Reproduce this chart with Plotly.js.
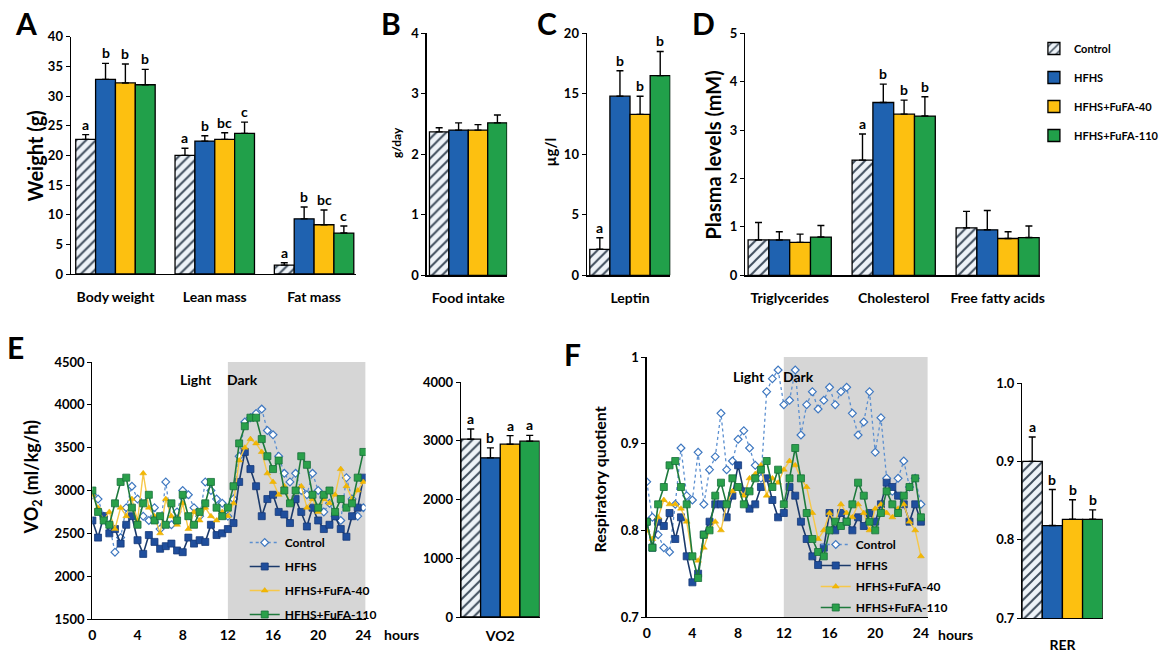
<!DOCTYPE html>
<html><head><meta charset="utf-8">
<script src="https://cdn.plot.ly/plotly-3.0.1.min.js"></script>
<style>html,body{margin:0;padding:0;background:#fff}#chart{width:1164px;height:653px}</style>
</head><body><div id="chart"></div>
<script>
// ---------- DATA ----------
const groups = ['Control', 'HFHS', 'HFHS+FuFA-40', 'HFHS+FuFA-110'];

// Panel A
const bodyCats = ['Body weight', 'Lean mass', 'Fat mass'];
const bodyMeans = [[22.7, 20.0, 1.5], [32.8, 22.4, 9.3], [32.2, 22.7, 8.3], [31.9, 23.7, 6.9]];
const bodyErrs = [[0.8, 1.2, 0.4], [2.7, 0.9, 2.0], [3.2, 1.1, 2.5], [2.6, 1.9, 1.2]];
const bodyLetters = [['a', 'a', 'a'], ['b', 'b', 'b'], ['b', 'bc', 'bc'], ['b', 'c', 'c']];

// Panel B
const foodCats = ['Food intake'];
const foodMeans = [[2.37], [2.40], [2.40], [2.52]];
const foodErrs = [[0.07], [0.12], [0.09], [0.13]];
const foodLetters = [[''], [''], [''], ['']];

// Panel C
const leptinCats = ['Leptin'];
const leptinMeans = [[2.15], [14.8], [13.3], [16.5]];
const leptinErrs = [[0.95], [2.1], [1.5], [2.0]];
const leptinLetters = [['a'], ['b'], ['b'], ['b']];

// Panel D
const plasmaCats = ['Triglycerides', 'Cholesterol', 'Free fatty acids'];
const plasmaMeans = [[0.73, 2.38, 0.98], [0.73, 3.57, 0.94], [0.68, 3.33, 0.76], [0.79, 3.29, 0.78]];
const plasmaErrs = [[0.36, 0.54, 0.34], [0.17, 0.38, 0.40], [0.17, 0.29, 0.14], [0.24, 0.40, 0.24]];
const plasmaLetters = [['', 'a', ''], ['', 'b', ''], ['', 'b', ''], ['', 'b', '']];

// Panel E bars
const vo2Cats = ['VO2'];
const vo2Means = [[3026], [2709], [2941], [2992]];
const vo2Errs = [[175], [170], [147], [100]];
const vo2Letters = [['a'], ['b'], ['a'], ['a']];

// Panel F bars
const rerCats = ['RER'];
const rerMeans = [[0.900], [0.818], [0.826], [0.826]];
const rerErrs = [[0.031], [0.046], [0.025], [0.012]];
const rerLetters = [['a'], ['b'], ['b'], ['b']];

// Time series (hours)
const hours = [0,0.5,1,1.5,2,2.5,3,3.5,4,4.5,5,5.5,6,6.5,7,7.5,8,8.5,9,9.5,10,10.5,11,11.5,12,12.5,13,13.5,14,14.5,15,15.5,16,16.5,17,17.5,18,18.5,19,19.5,20,20.5,21,21.5,22,22.5,23,23.5,24];
const hourTicks = [0, 4, 8, 12, 16, 20, 24];
const rqTicks = [0.7, 0.8, 0.9, 1.0];
const rqTickText = ['0.7', '0.8', '0.9', '1'];

const vo2Control = [2950,2900,2700,2600,2280,2450,2800,3050,2900,2700,2650,2800,2550,3100,2600,2750,3000,2950,2800,2700,3100,3000,2900,2850,2700,2900,3400,3800,3850,3900,3950,3700,3650,3400,3200,3100,3200,3000,2950,3200,3000,2750,2850,2700,2650,3150,2900,2700,2800];
const vo2HFHS = [2650,2450,2700,2500,2550,2380,2600,2700,2420,2260,2480,2400,2320,2350,2380,2300,2280,2450,2380,2420,2400,2600,2480,2500,2550,2620,3100,3450,3250,3050,2700,2900,2950,2750,2720,2620,2900,2750,2580,2800,2650,2550,2600,2700,2550,2460,2700,2800,3150];
const vo2F40 = [2950,2800,2650,2750,2550,2800,2700,2900,2650,3200,2800,2700,2500,2900,2700,2600,2850,2550,2750,2650,2800,2700,2650,2750,2700,2850,3350,3500,3600,3550,3450,3200,3100,2950,3050,2850,3000,3050,2800,2900,2750,2900,2850,2950,3250,3050,2900,3000,3100];
const vo2F110 = [3000,2750,2650,2600,2850,3100,3150,2800,2600,2850,2950,2650,2700,2600,2850,2650,2950,2700,2600,2750,2850,3100,2800,2700,2800,3050,3550,3750,3850,3850,3600,3400,3250,3350,3000,2850,3000,3400,3300,2950,2800,2950,3000,2750,2900,2800,2850,3150,3450];

const rqControl = [0.856,0.815,0.795,0.78,0.775,0.83,0.895,0.84,0.835,0.89,0.83,0.87,0.885,0.935,0.87,0.88,0.905,0.915,0.895,0.875,0.86,0.96,0.975,0.985,0.945,0.95,0.985,0.91,0.945,0.96,0.94,0.95,0.965,0.945,0.96,0.965,0.935,0.91,0.925,0.96,0.89,0.93,0.86,0.845,0.86,0.88,0.85,0.86,0.83];
const rqHFHS = [0.81,0.78,0.81,0.805,0.82,0.79,0.815,0.77,0.74,0.75,0.795,0.81,0.83,0.83,0.815,0.84,0.875,0.845,0.825,0.83,0.85,0.86,0.835,0.815,0.82,0.85,0.84,0.81,0.79,0.77,0.76,0.78,0.82,0.80,0.82,0.81,0.80,0.815,0.805,0.82,0.81,0.83,0.855,0.85,0.84,0.83,0.81,0.83,0.81];
const rqF40 = [0.80,0.79,0.815,0.835,0.83,0.83,0.825,0.81,0.77,0.765,0.78,0.80,0.81,0.80,0.83,0.845,0.85,0.84,0.86,0.865,0.875,0.84,0.86,0.855,0.87,0.88,0.875,0.86,0.85,0.82,0.79,0.80,0.82,0.81,0.83,0.82,0.815,0.83,0.82,0.80,0.825,0.83,0.82,0.815,0.825,0.83,0.81,0.80,0.77];
const rqF110 = [0.81,0.78,0.83,0.85,0.875,0.88,0.85,0.83,0.77,0.745,0.795,0.80,0.84,0.855,0.83,0.86,0.85,0.83,0.845,0.86,0.87,0.88,0.85,0.87,0.83,0.86,0.895,0.86,0.82,0.79,0.775,0.77,0.80,0.81,0.805,0.81,0.83,0.855,0.84,0.81,0.80,0.82,0.845,0.83,0.82,0.84,0.85,0.86,0.815];

// ---------- STYLE / LAYOUT ----------
const W = 1164, H = 653;
const FONT = 'Lato, "Open Sans", Arial, sans-serif';
const px = v => v / W;
const py = v => 1 - v / H;
const barColors = ['#eef3f8', '#1f62b0', '#fdc010', '#21a04a'];
const hatch = {shape: '/', fgcolor: '#3f4d5c', bgcolor: '#eef3f8', size: 7, solidity: 0.28};
const tickFont = s => ({size: s, family: FONT, color: '#000', weight: 'bold'});

const traces = [];
const annotations = [];
const layout = {
  width: W, height: H, margin: {l: 0, r: 0, t: 0, b: 0},
  paper_bgcolor: '#fff', plot_bgcolor: 'rgba(0,0,0,0)',
  font: {family: FONT, color: '#000', size: 13},
  barmode: 'group', bargap: 0.2, bargroupgap: 0,
  showlegend: true,
  legend: {x: px(1052), y: py(34), xanchor: 'left', yanchor: 'top', bgcolor: 'rgba(0,0,0,0)',
           font: tickFont(11), tracegroupgap: 10, itemwidth: 30},
  legend2: {x: px(249), y: py(528), xanchor: 'left', yanchor: 'top', bgcolor: 'rgba(0,0,0,0)',
            font: tickFont(12), tracegroupgap: 5},
  legend3: {x: px(830), y: py(530), xanchor: 'left', yanchor: 'top', bgcolor: 'rgba(0,0,0,0)',
            font: tickFont(12), tracegroupgap: 2},
  shapes: [], annotations: annotations
};

function yAxis(dom, range, dtick, anchor, extra) {
  return Object.assign({domain: [py(dom[0]), py(dom[1])], range: range, dtick: dtick, anchor: anchor,
    showline: true, linecolor: '#000', linewidth: 1.2, ticks: 'outside', ticklen: 4, tickcolor: '#000',
    showgrid: false, zeroline: false, tickfont: tickFont(13), fixedrange: true}, extra || {});
}
function xCat(dom, range, anchor, standoff) {
  return {domain: [px(dom[0]), px(dom[1])], range: range, type: 'category', anchor: anchor,
    showline: true, linecolor: '#000', linewidth: 1.2, ticks: '', showgrid: false, zeroline: false,
    tickfont: tickFont(14), ticklabelstandoff: standoff || 8, fixedrange: true};
}
function xLin(dom, range, anchor) {
  return {domain: [px(dom[0]), px(dom[1])], range: range, anchor: anchor, tickvals: hourTicks,
    showline: true, linecolor: '#000', linewidth: 1.2, ticks: '', showgrid: false, zeroline: false,
    tickfont: tickFont(14), ticklabelstandoff: 3, fixedrange: true};
}

function addBars(xa, ya, cats, means, errs, letters, showLegend) {
  for (let g = 0; g < 4; g++) {
    const marker = {color: barColors[g], line: {color: '#000', width: 1.3}};
    if (g === 0) marker.pattern = hatch;
    traces.push({
      type: 'bar', x: cats, y: means[g], xaxis: xa, yaxis: ya, name: groups[g],
      legend: 'legend', legendgroup: 'bar' + g, showlegend: showLegend, marker: marker,
      error_y: {type: 'data', symmetric: false, array: errs[g], arrayminus: errs[g].map(() => 0),
                color: '#000', thickness: 1.4, width: 3.5},
      hoverinfo: 'skip'
    });
    for (let c = 0; c < cats.length; c++) {
      if (!letters[g][c]) continue;
      annotations.push({xref: xa, yref: ya, x: c - 0.3 + 0.2 * g, y: means[g][c] + errs[g][c],
        text: letters[g][c], showarrow: false, yanchor: 'bottom', yshift: 0,
        font: tickFont(14)});
    }
  }
}

// Panel axes
layout.xaxis = xCat([72, 362], [-0.45, 2.42], 'y', 10);
layout.yaxis = yAxis([274, 36.7], [0, 40], 5, 'x');
layout.xaxis2 = xCat([434, 516], [-0.43, 0.40], 'y2', 10);
layout.yaxis2 = yAxis([275.3, 33.3], [0, 4], 1, 'x2');
layout.xaxis3 = xCat([597, 682], [-0.43, 0.40], 'y3', 10);
layout.yaxis3 = yAxis([275.3, 33.3], [0, 20], 5, 'x3');
layout.xaxis4 = xCat([758, 1058], [-0.43, 2.405], 'y4', 10);
layout.yaxis4 = yAxis([275.3, 33.3], [0, 5], 1, 'x4');
layout.xaxis5 = xLin([94, 372], [0, 24.2], 'y5');
layout.yaxis5 = yAxis([619, 362], [1500, 4500], 500, 'x5');
layout.xaxis6 = xCat([469, 549], [-0.4, 0.4], 'y6', 6);
layout.yaxis6 = yAxis([617, 382], [0, 4000], 1000, 'x6');
layout.xaxis7 = xLin([658, 944], [0, 24.6], 'y7');
layout.yaxis7 = yAxis([617, 357], [0.7, 1.0], null, 'x7', {tickvals: rqTicks, ticktext: rqTickText});
layout.xaxis8 = xCat([1040, 1122], [-0.4, 0.4], 'y8', 14);
layout.yaxis8 = yAxis([618, 383], [0.7, 1.0], 0.1, 'x8', {tickformat: '.1f'});

addBars('x', 'y', bodyCats, bodyMeans, bodyErrs, bodyLetters, true);
addBars('x2', 'y2', foodCats, foodMeans, foodErrs, foodLetters, false);
addBars('x3', 'y3', leptinCats, leptinMeans, leptinErrs, leptinLetters, false);
addBars('x4', 'y4', plasmaCats, plasmaMeans, plasmaErrs, plasmaLetters, false);
addBars('x6', 'y6', vo2Cats, vo2Means, vo2Errs, vo2Letters, false);
addBars('x8', 'y8', rerCats, rerMeans, rerErrs, rerLetters, false);

// Line series styles
const lineStyles = [
  {line: {color: '#5b8fd0', width: 1.3, dash: 'dot'}, marker: {symbol: 'diamond', size: 6, color: '#ffffff', line: {color: '#3f78c0', width: 1.2}}},
  {line: {color: '#1b3a6b', width: 1.6}, marker: {symbol: 'square', size: 7, color: '#1f4e9c', line: {color: '#163a78', width: 0.8}}},
  {line: {color: '#f6c84a', width: 1.4}, marker: {symbol: 'triangle-up', size: 6, color: '#f5b800', line: {color: '#e0a800', width: 0.5}}},
  {line: {color: '#1e7a3c', width: 1.6}, marker: {symbol: 'square', size: 7, color: '#2aa04a', line: {color: '#16703a', width: 0.8}}}
];
const vo2Series = [vo2Control, vo2HFHS, vo2F40, vo2F110];
const rqSeries = [rqControl, rqHFHS, rqF40, rqF110];
for (let g = 0; g < 4; g++) {
  traces.push(Object.assign({type: 'scatter', mode: 'lines+markers', x: hours, y: vo2Series[g],
    xaxis: 'x5', yaxis: 'y5', name: groups[g], legend: 'legend2', legendgroup: 'e' + g,
    hoverinfo: 'skip'}, JSON.parse(JSON.stringify(lineStyles[g]))));
  traces.push(Object.assign({type: 'scatter', mode: 'lines+markers', x: hours, y: rqSeries[g],
    xaxis: 'x7', yaxis: 'y7', name: groups[g], legend: 'legend3', legendgroup: 'f' + g,
    hoverinfo: 'skip'}, JSON.parse(JSON.stringify(lineStyles[g]))));
}

// Dark-phase shading
layout.shapes.push({type: 'rect', xref: 'x5', yref: 'y5', x0: 12, x1: 24.2, y0: 1500, y1: 4500,
  fillcolor: '#d6d6d6', line: {width: 0}, layer: 'below'});
layout.shapes.push({type: 'rect', xref: 'x7', yref: 'y7', x0: 12, x1: 24.6, y0: 0.7, y1: 1.0,
  fillcolor: '#d6d6d6', line: {width: 0}, layer: 'below'});

// Text annotations
function pa(x, y, text, size, opts) {
  annotations.push(Object.assign({xref: 'paper', yref: 'paper', x: px(x), y: py(y), text: text,
    showarrow: false, xanchor: 'center', yanchor: 'middle',
    font: {size: size, family: FONT, color: '#000', weight: 'bold'}}, opts || {}));
}
pa(26, 23, 'A', 30);
pa(398, 23, 'B', 30);
pa(557, 23, 'C', 30);
pa(716, 23, 'D', 30);
pa(16, 347, 'E', 30);
pa(583, 354, 'F', 30);
pa(36, 156, 'Weight (g)', 20, {textangle: -90});
pa(403, 143, 'g/day', 12, {textangle: -90});
pa(560, 152, 'µg/l', 15, {textangle: -90});
pa(725, 155, 'Plasma levels (mM)', 20, {textangle: -90});
pa(33, 477, 'VO<sub>2</sub> (ml/kg/h)', 18, {textangle: -90});
pa(609, 480, 'Respiratory quotient', 16, {textangle: -90});
pa(199, 379, 'Light', 14);
pa(247, 379, 'Dark', 14);
pa(762, 376, 'Light', 14);
pa(812, 376, 'Dark', 14);
pa(409, 634, 'hours', 14);
pa(972, 634, 'hours', 14);

Plotly.newPlot('chart', traces, layout, {displayModeBar: false, staticPlot: true});
</script>
</body></html>
